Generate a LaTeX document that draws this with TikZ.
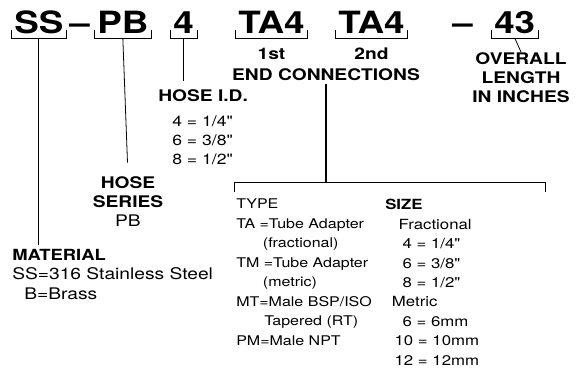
\documentclass[tikz,border=0pt]{standalone}
\usepackage{fontspec}
\setmainfont{TeX Gyre Heros}[FakeStretch=1.2,Ligatures=TeXOff]
\usetikzlibrary{positioning,calc}
\tikzset{
  code/.style={font=\fontsize{23}{23}\selectfont\bfseries,inner sep=0pt,anchor=base west},
  head/.style={font=\fontsize{12}{14.5}\selectfont\bfseries,inner sep=0pt,align=center},
  body/.style={font=\fontsize{10}{14.6}\selectfont,inner sep=0pt,align=left},
  brace/.style={draw=black,line width=0.7pt},
  lead/.style={draw=black,line width=0.6pt}
}
% bracket under one part of the number
\newcommand\codebrace[1]{%
  \draw[brace] ($(#1.base west)+(-3,-3)$) -- ++(0,8) -| ($(#1.base east)+(3,-3)$);
  \coordinate (#1-c) at ($(#1.base)+(0,5)$);}

\begin{document}
\begin{tikzpicture}[x=0.75pt,y=-0.75pt,node distance=11pt]
  \useasboundingbox (0,0) rectangle (583,380);
  % part number
  \node[code] (ss) at (14,33) {SS};
  \node[code] (d1) at (69,33) {–};
  \node[code] (pb) at (97,33) {PB};
  \node[code] (hid) at (173,33) {4};
  \node[code] (ta1) at (238,33) {TA4};
  \node[code] (ta2) at (338,33) {TA4};
  \node[code] (d2) at (452,33) {–};
  \node[code] (len) at (494,33) {43};
  \foreach \n in {ss,pb,hid,ta1,ta2,len} {\codebrace{\n}}

  % material
  \node[head,anchor=north west,align=left] (mat) at (12,249)
    {\fontsize{11.5}{14}\selectfont MATERIAL\\\fontsize{12}{14}\selectfont\mdseries SS=316 Stainless Steel\\
     \fontsize{12}{14}\selectfont\mdseries\hspace*{9pt}B=Brass};
  \draw[lead,shorten >=3pt] (ss-c) -- (ss-c |- mat.north);

  % hose series
  \node[head,anchor=north] (series) at (128,176) {HOSE\\SERIES\\\mdseries PB};
  \draw[lead,shorten >=10pt] (pb-c) -- (series.north);

  % hose i.d.
  \node[head,anchor=north west] (hoseid) at (158,89) {HOSE I.D.};
  \node[body,anchor=north west,font=\fontsize{11}{14}\selectfont] (idlist) at (172,116)
    {4 = 1/4"\\6 = 3/8"\\8 = 1/2"};
  \draw[lead,shorten >=6pt] (hid-c) -- (hid-c |- hoseid.north);

  % end connections
  \node[head,below=of ta1] (first) {1st};
  \node[head,below=of ta2] (second) {2nd};
  \node[head,anchor=base] (endconn) at (326,80) {END CONNECTIONS};

  % overall length
  \node[head,anchor=north] (overall) at (521,52) {OVERALL\\LENGTH\\IN INCHES};
  \draw[lead] (len-c) -- (overall.north);

  % type / size table
  \coordinate (tl) at (234,182);
  \coordinate (tr) at (545,182);
  \draw[brace] ($(tl)+(0,10)$) -- (tl) -- (tr) -- ++(0,10);
  \draw[lead,line width=1.2pt,shorten <=3pt] (endconn.south) -- (endconn.south |- tl);
  \node[body,anchor=north west] (types) at (236,199)
    {TYPE\\TA =Tube Adapter\\\hspace*{20pt}(fractional)\\TM =Tube Adapter\\\hspace*{20pt}(metric)\\
     MT=Male BSP/ISO\\\hspace*{21pt}Tapered (RT)\\PM=Male NPT};
  \node[body,anchor=north west,font=\fontsize{10.5}{14.6}\selectfont] (sizes) at (385,199)
    {\bfseries SIZE\\\hspace*{10pt}Fractional\\\hspace*{13pt}4 = 1/4"\\\hspace*{13pt}6 = 3/8"\\\hspace*{13pt}8 = 1/2"\\
     \hspace*{5pt}Metric\\\hspace*{13pt}6 = 6mm\\\hspace*{7pt}10 = 10mm\\\hspace*{7pt}12 = 12mm};
\end{tikzpicture}
\end{document}
